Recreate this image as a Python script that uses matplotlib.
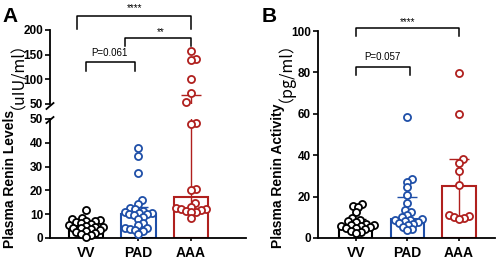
import numpy as np
import matplotlib
matplotlib.use("Agg")
import matplotlib.pyplot as plt
from matplotlib.lines import Line2D

plt.rcParams['font.family'] = ['Liberation Sans', 'DejaVu Sans']

groups = ["VV", "PAD", "AAA"]
colors = ["#000000", "#1F4FA8", "#B0201E"]

# Panel A: plasma renin levels (uIU/ml)
renin_vv = [11.8, 8.5, 8.0, 7.6, 7.3, 7.0, 6.7, 6.3, 6.0, 5.5, 5.2, 4.8,
            4.6, 4.3, 4.0, 3.6, 3.2, 3.0, 2.6, 2.2, 1.8, 1.2, 0.6]
renin_pad = [37.9, 34.4, 27.4, 15.8, 14.2, 12.5, 12.0, 11.5, 11.0, 10.5, 10.3, 10.1,
             9.9, 9.5, 9.0, 8.0, 6.5, 5.5, 4.3, 4.0, 3.8, 3.5, 2.8, 1.8]
renin_aaa = [158, 141, 139, 100.5, 73, 54, 48.5, 48.0, 20.6, 20.3, 14.5, 13.0,
             12.6, 12.3, 12.0, 11.6, 11.3, 11.0, 10.8, 8.4]
renin_median = [4.8, 10.0, 17.2]
renin_q1 = [3.0, 4.2, 11.3]
renin_q3 = [7.0, 13.0, 68.0]

# Panel B: plasma renin activity (pg/ml)
activity_vv = [16.5, 15.5, 14.8, 12.5, 9.5, 8.8, 8.2, 7.6, 7.0, 6.5, 6.3, 6.0,
               5.6, 5.3, 5.0, 4.8, 4.5, 3.5, 3.0, 2.5]
activity_pad = [58.6, 28.3, 27.0, 24.5, 21.0, 16.8, 13.3, 12.5, 11.0, 10.0, 9.2,
                8.8, 8.5, 8.0, 7.6, 7.2, 6.8, 6.2, 5.5, 4.4, 3.8]
activity_aaa = [79.9, 59.8, 38.0, 36.4, 32.5, 25.6, 11.0, 10.4, 10.0, 9.8, 9.2]
activity_median = [6.3, 9.2, 25.3]
activity_q1 = [4.6, 6.8, 10.0]
activity_q3 = [9.2, 20.0, 38.0]

W, H = 498, 260


def fx(p):
    return p / W


def fy(p):
    return 1 - p / H


def swarm(ax, xc, vals, diam=5.0):
    vals = np.asarray(vals, float)
    pts = ax.transData.transform(np.column_stack([np.full(len(vals), xc), vals]))
    placed = []
    xs = np.zeros(len(vals))
    for i in np.argsort(vals):
        px, py = pts[i]
        best = None
        for k in range(200):
            for s in ([0.0] if k == 0 else [k * 0.5, -k * 0.5]):
                c = px + s
                if all((c - qx) ** 2 + (py - qy) ** 2 >= diam ** 2 for qx, qy in placed):
                    best = c
                    break
            if best is not None:
                break
        placed.append((best, py))
        xs[i] = best
    return ax.transData.inverted().transform(np.column_stack([xs, pts[:, 1]]))[:, 0]


def style(ax):
    for s in ["top", "right"]:
        ax.spines[s].set_visible(False)
    for s in ["left", "bottom"]:
        ax.spines[s].set_linewidth(1.3)
    ax.tick_params(axis="y", direction="out", length=3.5, width=1.2, labelsize=8.5, pad=1.5)
    ax.tick_params(axis="x", direction="out", length=2.5, width=1.2, labelsize=10, pad=3)
    for lab in ax.get_yticklabels() + ax.get_xticklabels():
        lab.set_fontweight("bold")


def draw_points(ax, data, lo=None, hi=None):
    for i, vals in enumerate(data):
        vals = np.asarray(vals, float)
        xs = swarm(ax, i, vals)
        m = np.ones(len(vals), bool)
        if lo is not None:
            m &= vals > lo
        if hi is not None:
            m &= vals <= hi
        ax.scatter(xs[m], vals[m], s=26, facecolor="white", edgecolor=colors[i],
                   linewidth=1.3, zorder=4, clip_on=False)


def draw_bars(ax, med, q1, q3):
    x = np.arange(3)
    ax.bar(x, med, width=0.65, facecolor="white", edgecolor=colors, linewidth=1.5, zorder=1)
    for i in range(3):
        ax.errorbar(i, med[i], yerr=[[med[i] - q1[i]], [q3[i] - med[i]]], color=colors[i],
                    lw=1.0, capsize=7, capthick=1.0, zorder=2)


def bracket(ax, x0, x1, y, yl0, yl1, text, ty, tx=None, size=7):
    ax.plot([x0, x0, x1, x1], [yl0, y, y, yl1], color="black", lw=1.1, clip_on=False)
    ax.text((x0 + x1) / 2 if tx is None else tx, ty, text, ha="center", va="center",
            fontsize=size)


fig = plt.figure(figsize=(W / 100, H / 100), dpi=100)

# ---- Panel A (broken axis)
ax_hi = fig.add_axes([fx(50), fy(104), fx(196), fy(30) - fy(104)])
ax_lo = fig.add_axes([fx(50), fy(238), fx(196), fy(119) - fy(238)])
for ax in (ax_hi, ax_lo):
    ax.set_xlim(-0.686, 3.05)
ax_hi.set_ylim(50, 200)
ax_hi.set_yticks([50, 100, 150, 200])
ax_hi.set_xticks([])
ax_lo.set_ylim(0, 50)
ax_lo.set_yticks([0, 10, 20, 30, 40, 50])
ax_lo.set_xticks(range(3))
ax_lo.set_xticklabels(groups)
style(ax_hi)
style(ax_lo)
ax_hi.spines["bottom"].set_visible(False)

renin = [renin_vv, renin_pad, renin_aaa]
draw_bars(ax_lo, renin_median, renin_q1, renin_q3)
draw_bars(ax_hi, renin_median, renin_q1, renin_q3)
draw_points(ax_lo, renin, hi=50)
draw_points(ax_hi, renin, lo=50)

bracket(ax_hi, -0.17, 2.0, 228, 202, 202, "****", 244, tx=0.93)
bracket(ax_hi, 0.74, 2.0, 183.8, 167.6, 167.6, "**", 195, tx=1.43)
bracket(ax_hi, 0.0, 0.93, 135, 117, 117, "P=0.061", 152.5, tx=0.44)

# break marks
for y0 in (106, 120):
    fig.add_artist(Line2D([fx(46.5), fx(53.5)], [fy(y0 + 3), fy(y0 - 3)],
                          color="black", lw=1.3))

# ---- Panel B
ax_b = fig.add_axes([fx(318), fy(238), fx(177), fy(31) - fy(238)])
ax_b.set_xlim(-0.73, 2.7)
ax_b.set_ylim(0, 100)
ax_b.set_yticks([0, 20, 40, 60, 80, 100])
ax_b.set_xticks(range(3))
ax_b.set_xticklabels(groups)
style(ax_b)
draw_bars(ax_b, activity_median, activity_q1, activity_q3)
draw_points(ax_b, [activity_vv, activity_pad, activity_aaa])
bracket(ax_b, 0.0, 2.0, 101.3, 97.4, 97.4, "****", 104.5, tx=1.0)
bracket(ax_b, 0.0, 1.06, 82.8, 78.6, 78.6, "P=0.057", 87.3, tx=0.52)

# ---- y labels with full-width unit part, sharing one baseline
fig.canvas.draw()
renderer = fig.canvas.get_renderer()


def ylabel(xbase, main, unit):
    t1 = fig.text(fx(xbase), fy(248), main, rotation=90, rotation_mode="anchor",
                  ha="left", va="baseline", fontsize=10, fontweight="bold")
    bb = t1.get_window_extent(renderer)
    fig.text(fx(xbase), bb.y1 / H + 0.004, unit, rotation=90, rotation_mode="anchor",
             ha="left", va="baseline", fontsize=11.5,
             family=["Noto Sans CJK SC", "DejaVu Sans"])


ylabel(14, "Plasma Renin Levels", "（uIU/ml）")
ylabel(282, "Plasma Renin Activity", "（pg/ml）")

fig.text(fx(2), fy(22), "A", fontsize=15, fontweight="bold", ha="left", va="baseline")
fig.text(fx(262), fy(22), "B", fontsize=15, fontweight="bold", ha="left", va="baseline")

fig.savefig("out.png", dpi=100)
